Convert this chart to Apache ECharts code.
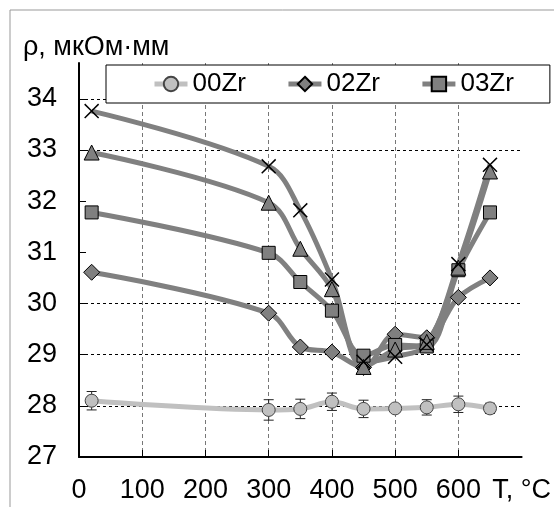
<!DOCTYPE html>
<html><head><meta charset="utf-8">
<script src="https://cdn.jsdelivr.net/npm/echarts@6/dist/echarts.min.js"></script>
<style>html,body{margin:0;padding:0;background:#fff}#c{width:554px;height:507px}</style>
</head><body><div id="c"></div>
<script>
// ---- data ----
const temps = [20, 300, 350, 400, 450, 500, 550, 600, 650];
const zr00 = [28.10, 27.92, 27.94, 28.08, 27.94, 27.95, 27.97, 28.03, 27.95];
const zr00Err = [0.18, 0.20, 0.19, 0.17, 0.17, 0.05, 0.15, 0.16, 0.10];
const zr02 = [30.61, 29.81, 29.15, 29.05, 28.75, 29.40, 29.33, 30.12, 30.50];
const zr03 = [31.78, 30.99, 30.42, 29.86, 28.98, 29.19, 29.16, 30.65, 31.78];
const triVals = [32.95, 31.97, 31.07, 30.28, 28.76, 29.10, 29.25, 30.70, 32.58];
const crossVals = [33.76, 32.68, 31.82, 30.47, 28.86, 28.96, 29.20, 30.77, 32.71];
const legendNames = ['00Zr', '02Zr', '03Zr'];
const yTickValues = [27, 28, 29, 30, 31, 32, 33, 34];
const xTickValues = [0, 100, 200, 300, 400, 500, 600];
const xLabelValues = [0, 100, 200, 300, 400, 500, 600, 700];
const yAxisTitle = 'ρ, мкОм·мм';
const xAxisTitle = 'T, °C';

const pairs = (vals) => temps.map((t, i) => [t, vals[i]]);
const FONT = '"Liberation Sans", Arial, sans-serif';
const GRAY = '#808080';
const crossPath = 'path://M0,7 L7,0 L50,43 L93,0 L100,7 L57,50 L100,93 L93,100 L50,57 L7,100 L0,93 L43,50 Z';

const chart = echarts.init(document.getElementById('c'), null, {renderer: 'canvas'});
const lineBase = {
  type: 'line', smooth: 0.35,
  lineStyle: {color: GRAY, width: 5},
  itemStyle: {color: GRAY, borderColor: '#000', borderWidth: 1},
  emphasis: {disabled: true}, animation: false
};
chart.setOption({
  animation: false,
  graphic: [{type: 'rect', shape: {x: 10, y: 10, width: 600, height: 600},
    style: {fill: 'none', stroke: '#999', lineWidth: 1}, z: -10, silent: true}],
  title: {text: yAxisTitle, left: 23, top: 34, padding: 0,
    textStyle: {fontFamily: FONT, fontSize: 27, fontWeight: 'normal', color: '#000'}},
  legend: {
    data: legendNames, left: 106, top: 65, width: 440, padding: [6, 36, 6, 46], itemGap: 40,
    itemWidth: 33, itemHeight: 18, borderColor: '#000', borderWidth: 1, backgroundColor: '#fff',
    lineStyle: {width: 5},
    textStyle: {fontFamily: FONT, fontSize: 26, color: '#000'}, selectedMode: false, z: 10
  },
  grid: {left: 79, right: 25, top: 63, bottom: 50, containLabel: false},
  xAxis: {
    type: 'value', min: 0, max: 700, interval: 100,
    axisLine: {lineStyle: {color: '#000', width: 2}},
    axisTick: {inside: true, length: 7, lineStyle: {color: '#000', width: 1}, customValues: xTickValues},
    axisLabel: {customValues: xLabelValues, margin: 20, fontFamily: FONT, fontSize: 27, color: '#000',
      formatter: v => v === 700 ? xAxisTitle : String(v)},
    splitLine: {show: true, lineStyle: {type: [4, 3], width: 1,
      color: ['rgba(0,0,0,0)', '#777', '#777', '#777', '#777', '#777', '#777', 'rgba(0,0,0,0)']}}
  },
  yAxis: {
    type: 'value', min: 27, max: 34.7, interval: 1,
    axisLine: {lineStyle: {color: '#000', width: 2}},
    axisTick: {inside: true, length: 7, lineStyle: {color: '#000', width: 1}, customValues: yTickValues},
    axisLabel: {customValues: yTickValues, margin: 22, fontFamily: FONT, fontSize: 27, color: '#000'},
    splitLine: {show: true, lineStyle: {type: [3, 3], width: 1,
      color: ['rgba(0,0,0,0)', '#000', '#000', '#000', 'rgba(0,0,0,0)', 'rgba(0,0,0,0)', '#000', '#000', 'rgba(0,0,0,0)']}}
  },
  series: [
    {
      type: 'custom', name: 'err00', z: 1, silent: true,
      data: temps.map((t, i) => [t, zr00[i], zr00Err[i]]),
      renderItem: (params, api) => {
        const x = api.value(0), y = api.value(1), e = api.value(2);
        const top = api.coord([x, y + e]), bot = api.coord([x, y - e]);
        const w = 5, st = {stroke: '#222', lineWidth: 1};
        return {type: 'group', children: [
          {type: 'line', shape: {x1: top[0], y1: top[1], x2: bot[0], y2: bot[1]}, style: st},
          {type: 'line', shape: {x1: top[0] - w, y1: top[1], x2: top[0] + w, y2: top[1]}, style: st},
          {type: 'line', shape: {x1: bot[0] - w, y1: bot[1], x2: bot[0] + w, y2: bot[1]}, style: st}
        ]};
      }
    },
    Object.assign({}, lineBase, {name: '00Zr', data: pairs(zr00), symbol: 'circle', symbolSize: 13,
      lineStyle: {color: '#c0c0c0', width: 5},
      itemStyle: {color: '#c0c0c0', borderColor: '#444', borderWidth: 1}}),
    Object.assign({}, lineBase, {name: '02Zr', data: pairs(zr02), symbol: 'diamond', symbolSize: 16}),
    Object.assign({}, lineBase, {name: '03Zr', data: pairs(zr03), symbol: 'rect', symbolSize: 13}),
    Object.assign({}, lineBase, {name: '04Zr', data: pairs(triVals), symbol: 'triangle', symbolSize: 15}),
    Object.assign({}, lineBase, {name: '05Zr', data: pairs(crossVals), symbol: crossPath, symbolSize: 15,
      itemStyle: {color: '#000', borderWidth: 0}})
  ]
});
</script></body></html>
